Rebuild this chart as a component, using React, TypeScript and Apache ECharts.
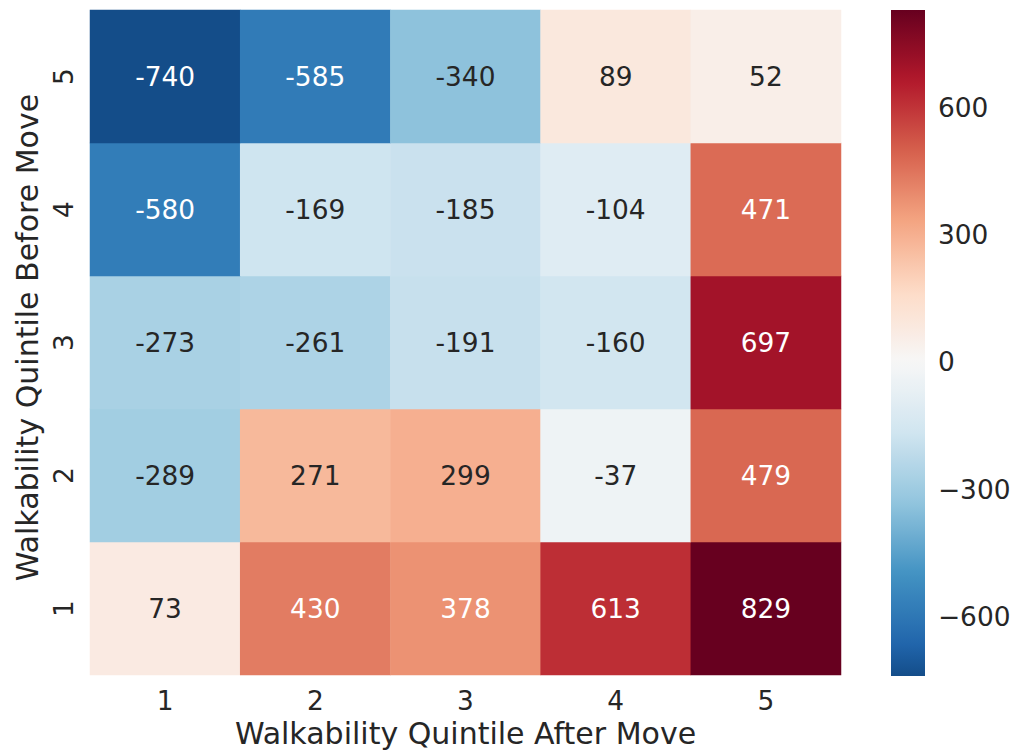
import React, { useEffect, useRef } from "react";
import * as echarts from "echarts";

const xCategories = ["1", "2", "3", "4", "5"];
const yCategories = ["1", "2", "3", "4", "5"];
// rows indexed by "before move" quintile 1..5 (bottom to top), columns by "after move" 1..5
const row1 = [73, 430, 378, 613, 829];
const row2 = [-289, 271, 299, -37, 479];
const row3 = [-273, -261, -191, -160, 697];
const row4 = [-580, -169, -185, -104, 471];
const row5 = [-740, -585, -340, 89, 52];
const rows = [row1, row2, row3, row4, row5];
const colorbarTicks = [-600, -300, 0, 300, 600];

const xTitle = "Walkability Quintile After Move";
const yTitle = "Walkability Quintile Before Move";

// matplotlib RdBu_r anchors
const RDBU_R = [
  "#053061", "#2166ac", "#4393c3", "#92c5de", "#d1e5f0", "#f7f7f7",
  "#fddbc7", "#f4a582", "#d6604d", "#b2182b", "#67001f",
];

function hexToRgb(h: string): number[] {
  const n = parseInt(h.slice(1), 16);
  return [(n >> 16) & 255, (n >> 8) & 255, n & 255];
}
function cmap(t: number): number[] {
  t = Math.max(0, Math.min(1, t));
  const p = t * (RDBU_R.length - 1);
  const i = Math.min(Math.floor(p), RDBU_R.length - 2);
  const f = p - i;
  const a = hexToRgb(RDBU_R[i]);
  const b = hexToRgb(RDBU_R[i + 1]);
  return [0, 1, 2].map((k) => a[k] + (b[k] - a[k]) * f);
}
function rgbStr(c: number[]) {
  return `rgb(${Math.round(c[0])},${Math.round(c[1])},${Math.round(c[2])})`;
}

const allVals = rows.flat();
const vmin = Math.min(...allVals);
const vmax = Math.max(...allVals);
const center = 0;
const vrange = Math.max(vmax - center, center - vmin);
const cmin = (vmin - (center - vrange)) / (2 * vrange);
const cmax = (vmax - (center - vrange)) / (2 * vrange);

function colorFor(v: number): number[] {
  const n = (v - vmin) / (vmax - vmin);
  return cmap(cmin + n * (cmax - cmin));
}
function luminance(c: number[]) {
  const l = c.map((x) => {
    const v = x / 255;
    return v <= 0.03928 ? v / 12.92 : Math.pow((v + 0.055) / 1.055, 2.4);
  });
  return 0.2126 * l[0] + 0.7152 * l[1] + 0.0722 * l[2];
}

const FONT = "DejaVu Sans";
const TXT = "#262626";

export default function App() {
  const ref = useRef<HTMLDivElement>(null);
  useEffect(() => {
    if (!ref.current) return;
    const chart = echarts.init(ref.current, null, { renderer: "svg" });

    const data: any[] = [];
    rows.forEach((r, yi) =>
      r.forEach((v, xi) => {
        const c = colorFor(v);
        data.push({
          value: [xi, yi, v],
          label: { color: luminance(c) > 0.408 ? TXT : "#ffffff" },
        });
      })
    );

    const N = 64;
    const gradColors: string[] = [];
    for (let i = 0; i < N; i++) {
      gradColors.push(rgbStr(colorFor(vmin + ((vmax - vmin) * i) / (N - 1))));
    }
    // gradient from top (vmax) to bottom (vmin)
    const stops = gradColors
      .map((c, i) => ({ offset: 1 - i / (N - 1), color: c }))
      .sort((a, b) => a.offset - b.offset);

    const plotL = 90, plotT = 10, plotW = 751, plotH = 666;
    const cbL = 891, cbW = 34;

    chart.setOption({
      animation: false,
      textStyle: { fontFamily: FONT },
      grid: [
        { left: plotL, top: plotT, width: plotW, height: plotH },
        { left: cbL, top: plotT, width: cbW, height: plotH },
      ],
      xAxis: [
        {
          type: "category",
          data: xCategories,
          gridIndex: 0,
          axisLine: { show: false },
          axisTick: { show: false },
          splitLine: { show: false },
          axisLabel: { fontSize: 26.4, color: TXT, margin: 12, fontFamily: FONT },
          name: xTitle,
          nameLocation: "middle",
          nameGap: 43,
          nameTextStyle: { fontSize: 30, color: TXT, fontFamily: FONT },
        },
        {
          type: "category",
          data: ["c"],
          gridIndex: 1,
          show: false,
        },
      ],
      yAxis: [
        {
          type: "category",
          data: yCategories,
          gridIndex: 0,
          axisLine: { show: false },
          axisTick: { show: false },
          splitLine: { show: false },
          axisLabel: { fontSize: 26.4, color: TXT, margin: 14, rotate: 90, fontFamily: FONT },
          name: yTitle,
          nameLocation: "middle",
          nameRotate: 90,
          nameGap: 48,
          nameTextStyle: { fontSize: 30, color: TXT, fontFamily: FONT, padding: [0, 0, 0, 10] },
        },
        {
          type: "value",
          gridIndex: 1,
          min: vmin,
          max: vmax,
          position: "right",
          axisLine: { show: false },
          axisTick: { show: false },
          splitLine: { show: false },
          axisLabel: {
            fontSize: 26.4,
            color: TXT,
            margin: 13,
            fontFamily: FONT,
            customValues: colorbarTicks,
            formatter: (v: number) => String(v).replace("-", "\u2212"),
          },
        },
      ],
      visualMap: {
        show: false,
        type: "continuous",
        min: vmin,
        max: vmax,
        dimension: 2,
        seriesIndex: 0,
        inRange: { color: gradColors },
      },
      graphic: [
        {
          type: "rect",
          shape: { x: cbL, y: plotT, width: cbW, height: plotH },
          style: { fill: new echarts.graphic.LinearGradient(0, 0, 0, 1, stops) },
          z: 10,
        },
      ],
      series: [
        {
          type: "heatmap",
          xAxisIndex: 0,
          yAxisIndex: 0,
          data,
          label: {
            show: true,
            fontSize: 26.4,
            fontFamily: FONT,
            formatter: (p: any) => String(p.value[2]),
          },
          itemStyle: { borderWidth: 0 },
          emphasis: { disabled: true },
        },
      ],
    });
    return () => chart.dispose();
  }, []);
  return (
    <div
      ref={ref}
      style={{ position: "fixed", left: 0, top: 0, width: 1016, height: 753, background: "#fff" }}
    />
  );
}
